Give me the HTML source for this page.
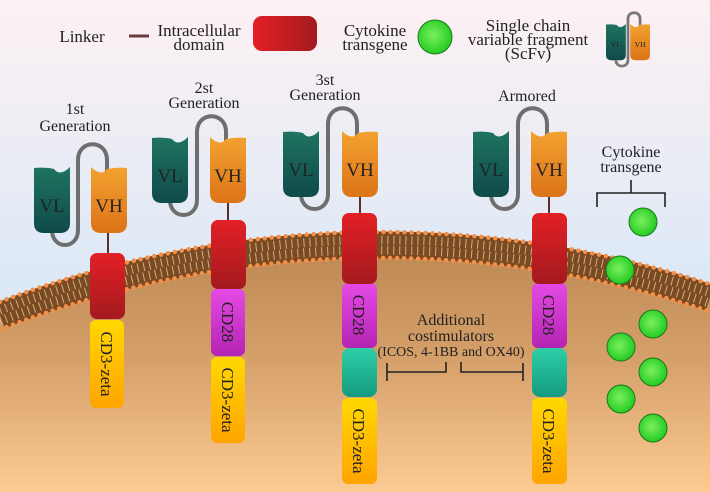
<!DOCTYPE html>
<html><head><meta charset="utf-8"><style>
html,body{margin:0;padding:0;width:710px;height:492px;overflow:hidden}
svg{display:block;font-family:"Liberation Serif",serif}
text{fill:#222}
</style></head><body>
<svg width="710" height="492" viewBox="0 0 710 492" xmlns="http://www.w3.org/2000/svg">
<defs>
<linearGradient id="bg" x1="0" y1="0" x2="0" y2="1"><stop offset="0" stop-color="#fdf1f3"/><stop offset="0.55" stop-color="#dde9f6"/><stop offset="1" stop-color="#d3e5f5"/></linearGradient>
<linearGradient id="cell" x1="0" y1="230" x2="0" y2="492" gradientUnits="userSpaceOnUse"><stop offset="0" stop-color="#b98550"/><stop offset="0.5" stop-color="#d6a06a"/><stop offset="1" stop-color="#fccb92"/></linearGradient>
<linearGradient id="red" x1="0" y1="0" x2="0" y2="1"><stop offset="0" stop-color="#e32026"/><stop offset="1" stop-color="#a31a1e"/></linearGradient>
<linearGradient id="redh" x1="0" y1="0" x2="1" y2="0"><stop offset="0" stop-color="#e32026"/><stop offset="1" stop-color="#a31a1e"/></linearGradient>
<linearGradient id="mag" x1="0" y1="0" x2="0" y2="1"><stop offset="0" stop-color="#e54ae5"/><stop offset="1" stop-color="#b424b4"/></linearGradient>
<linearGradient id="teal" x1="0" y1="0" x2="0" y2="1"><stop offset="0" stop-color="#2ccfa8"/><stop offset="1" stop-color="#159a80"/></linearGradient>
<linearGradient id="yel" x1="0" y1="0" x2="0" y2="1"><stop offset="0" stop-color="#ffd800"/><stop offset="1" stop-color="#ffa400"/></linearGradient>
<linearGradient id="vl" x1="0" y1="0" x2="0" y2="1"><stop offset="0" stop-color="#1f7460"/><stop offset="1" stop-color="#0f4a4a"/></linearGradient>
<linearGradient id="vh" x1="0" y1="0" x2="0" y2="1"><stop offset="0" stop-color="#f2a230"/><stop offset="1" stop-color="#dc7318"/></linearGradient>
<radialGradient id="grn" cx="0.45" cy="0.45" r="0.6"><stop offset="0" stop-color="#7cf060"/><stop offset="1" stop-color="#1cc81c"/></radialGradient>
<path id="VL" d="M0,1 Q12,0 20,2 Q26,10 36,0 L36,56 Q36,66 26,66 L10,66 Q0,66 0,56 Z"/>
<path id="VH" d="M0,0 Q10,10 16,2 Q26,0 36,1 L36,56 Q36,66 26,66 L10,66 Q0,66 0,56 Z"/>
</defs>
<rect width="710" height="492" fill="url(#bg)"/>
<path d="M0,316.7 A1056,1056 0 0 1 710,298.9 L710,492 L0,492 Z" fill="url(#cell)"/>
<path d="M0,315.7 A1057,1057 0 0 1 710,297.8" fill="none" stroke="#7a4a22" stroke-width="27"/>
<path d="M0,310.3 A1062,1062 0 0 1 710,292.6" fill="none" stroke="#e0c092" stroke-width="9" stroke-dasharray="1 5" opacity="0.85"/>
<path d="M0,321 A1052,1052 0 0 1 710,303.1" fill="none" stroke="#e0c092" stroke-width="9" stroke-dasharray="1 5" opacity="0.85"/>
<path d="M0,301.75 A1070,1070 0 0 1 710,284.2" fill="none" stroke="#f79046" stroke-width="4.5" stroke-dasharray="0 7" stroke-linecap="round"/>
<path d="M0,329.6 A1044,1044 0 0 1 710,311.5" fill="none" stroke="#f79046" stroke-width="4.5" stroke-dasharray="0 7" stroke-linecap="round"/>

<text x="82" y="42" font-size="17" text-anchor="middle">Linker</text>
<line x1="129" y1="36" x2="149" y2="36" stroke="#6a3a3a" stroke-width="3"/>
<text x="199" y="36" font-size="17" text-anchor="middle">Intracellular</text>
<text x="199" y="50" font-size="17" text-anchor="middle">domain</text>
<rect x="253" y="16" width="64" height="35" rx="9" fill="url(#redh)"/>
<text x="375" y="36" font-size="17" text-anchor="middle">Cytokine</text>
<text x="375" y="50" font-size="17" text-anchor="middle">transgene</text>
<circle cx="435" cy="37" r="17" fill="url(#grn)" stroke="#1a7a1a" stroke-width="1"/>
<text x="528" y="31" font-size="17" text-anchor="middle">Single chain</text>
<text x="528" y="45" font-size="17" text-anchor="middle">variable fragment</text>
<text x="528" y="59" font-size="17" text-anchor="middle">(ScFv)</text>
<g transform="translate(606,24) scale(0.55)">
<path d="M18,66 C18,80 40,80 40,66 L40,-10 C40,-24 62,-24 62,-10 L62,5" fill="none" stroke="#777" stroke-width="5"/>
<use href="#VL" x="0" y="0" fill="url(#vl)"/><use href="#VH" x="44" y="0" fill="url(#vh)"/>
<text x="18" y="42" font-size="14" text-anchor="middle" fill="#111">VL</text><text x="62" y="42" font-size="14" text-anchor="middle" fill="#111">VH</text>
</g>

<text x="75" y="114" font-size="16" text-anchor="middle">1st</text>
<text x="75" y="131" font-size="16" text-anchor="middle">Generation</text>
<text x="204" y="93" font-size="16" text-anchor="middle">2st</text>
<text x="204" y="108" font-size="16" text-anchor="middle">Generation</text>
<text x="325" y="85" font-size="16" text-anchor="middle">3st</text>
<text x="325" y="100" font-size="16" text-anchor="middle">Generation</text>
<text x="527" y="101" font-size="16" text-anchor="middle">Armored</text>

<g fill="none" stroke="#6e6e6e" stroke-width="4">
<path d="M52,230 C52,250 78,250 78,230 L78,160 C78,139 107,139 107,160 L107,172"/>
<path d="M170,200 C170,220 197,220 197,200 L197,132 C197,111 226,111 226,132 L226,142"/>
<path d="M301,194 C301,214 328,214 328,194 L328,124 C328,103 357,103 357,124 L357,137"/>
<path d="M491,194 C491,214 518,214 518,194 L518,124 C518,103 547,103 547,124 L547,137"/>
</g>
<g stroke="#5a2e2e" stroke-width="2">
<line x1="108" y1="230" x2="108" y2="255"/>
<line x1="228" y1="200" x2="228" y2="222"/>
<line x1="360" y1="194" x2="360" y2="215"/>
<line x1="549" y1="194" x2="549" y2="215"/>
</g>
<g font-size="19" text-anchor="middle">
<use href="#VL" x="34" y="167" fill="url(#vl)"/><use href="#VH" x="91" y="167" fill="url(#vh)"/>
<text x="52" y="212" fill="#111">VL</text><text x="109" y="212" fill="#111">VH</text>
<use href="#VL" x="152" y="137" fill="url(#vl)"/><use href="#VH" x="210" y="137" fill="url(#vh)"/>
<text x="170" y="182" fill="#111">VL</text><text x="228" y="182" fill="#111">VH</text>
<use href="#VL" x="283" y="131" fill="url(#vl)"/><use href="#VH" x="342" y="131" fill="url(#vh)"/>
<text x="301" y="176" fill="#111">VL</text><text x="360" y="176" fill="#111">VH</text>
<use href="#VL" x="473" y="131" fill="url(#vl)"/><use href="#VH" x="531" y="131" fill="url(#vh)"/>
<text x="491" y="176" fill="#111">VL</text><text x="549" y="176" fill="#111">VH</text>
</g>

<rect x="90" y="320" width="34" height="88" rx="6" fill="url(#yel)"/>
<rect x="90" y="253" width="35" height="66" rx="7" fill="url(#red)"/>
<rect x="211" y="357" width="34" height="86" rx="6" fill="url(#yel)"/>
<rect x="211" y="289" width="34" height="67" rx="6" fill="url(#mag)"/>
<rect x="211" y="220" width="35" height="69" rx="7" fill="url(#red)"/>
<rect x="342" y="398" width="35" height="86" rx="6" fill="url(#yel)"/>
<rect x="342" y="348" width="35" height="49" rx="8" fill="url(#teal)"/>
<rect x="342" y="283" width="35" height="65" rx="6" fill="url(#mag)"/>
<rect x="342" y="213" width="35" height="71" rx="7" fill="url(#red)"/>
<rect x="532" y="398" width="35" height="86" rx="6" fill="url(#yel)"/>
<rect x="532" y="348" width="35" height="49" rx="8" fill="url(#teal)"/>
<rect x="532" y="283" width="35" height="65" rx="6" fill="url(#mag)"/>
<rect x="532" y="213" width="35" height="71" rx="7" fill="url(#red)"/>

<g font-size="17">
<text transform="translate(101,364) rotate(90)" text-anchor="middle">CD3-zeta</text>
<text transform="translate(222,322) rotate(90)" text-anchor="middle">CD28</text>
<text transform="translate(222,400) rotate(90)" text-anchor="middle">CD3-zeta</text>
<text transform="translate(353,315) rotate(90)" text-anchor="middle">CD28</text>
<text transform="translate(353,441) rotate(90)" text-anchor="middle">CD3-zeta</text>
<text transform="translate(543,315) rotate(90)" text-anchor="middle">CD28</text>
<text transform="translate(543,441) rotate(90)" text-anchor="middle">CD3-zeta</text>
</g>

<text x="451" y="325" font-size="16" text-anchor="middle">Additional</text>
<text x="451" y="341" font-size="16" text-anchor="middle">costimulators</text>
<text x="451" y="356" font-size="14" text-anchor="middle">(ICOS, 4-1BB and OX40)</text>
<g fill="none" stroke="#222" stroke-width="1.6">
<path d="M387,363 L387,381 M387,372 L446,372 L446,362"/>
<path d="M461,362 L461,372 L523,372 M523,363 L523,381"/>
<path d="M631,180 L631,193 M597,207 L597,193 L665,193 L665,207"/>
</g>
<text x="631" y="157" font-size="16" text-anchor="middle">Cytokine</text>
<text x="631" y="172" font-size="16" text-anchor="middle">transgene</text>
<g fill="url(#grn)" stroke="#1a7a1a" stroke-width="1">
<circle cx="643" cy="222" r="14"/>
<circle cx="620" cy="270" r="14"/>
<circle cx="653" cy="324" r="14"/>
<circle cx="621" cy="347" r="14"/>
<circle cx="653" cy="372" r="14"/>
<circle cx="621" cy="399" r="14"/>
<circle cx="653" cy="428" r="14"/>
</g>
</svg>
</body></html>
